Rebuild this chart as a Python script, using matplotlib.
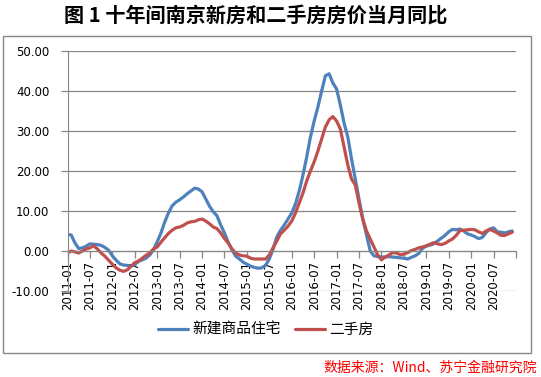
import numpy as np
import matplotlib.pyplot as plt
from matplotlib.patches import Rectangle

# 月度数据 2011-01 ~ 2020-12（同比，%）
new_home = [
    4.1, 4.0, 2.0, 0.6, 0.8, 1.2, 1.8, 1.7, 1.6, 1.4, 0.9, 0.2,          # 2011
    -1.2, -2.3, -3.2, -3.5, -3.6, -3.8, -3.4, -2.6, -2.2, -1.8, -1.0, 0.3,  # 2012
    2.3, 4.5, 7.2, 9.5, 11.3, 12.2, 12.8, 13.5, 14.3, 15.0, 15.7, 15.5,  # 2013
    14.8, 13.0, 11.2, 9.8, 8.8, 6.5, 4.5, 2.2, 0.3, -1.3, -2.0, -2.8,    # 2014
    -3.3, -3.8, -4.1, -4.3, -4.2, -3.6, -2.0, 0.5, 3.5, 5.2, 6.5, 8.0,   # 2015
    9.5, 11.8, 15.0, 19.0, 23.5, 28.5, 32.5, 36.0, 40.0, 43.8, 44.3, 42.0,  # 2016
    40.5, 36.5, 32.0, 28.5, 23.0, 18.0, 13.0, 8.0, 4.0, 0.0, -1.2, -1.4,  # 2017
    -1.5, -1.5, -1.4, -1.5, -1.6, -1.7, -1.8, -2.0, -1.6, -1.2, -0.6, 0.7,  # 2018
    1.2, 1.5, 1.8, 2.5, 3.2, 3.9, 4.8, 5.4, 5.3, 5.5, 5.0, 4.3,          # 2019
    4.0, 3.6, 3.1, 3.4, 4.6, 5.5, 5.8, 4.8, 4.7, 4.5, 4.8, 5.0,          # 2020
]
second_hand = [
    -0.5, 0.0, -0.2, -0.5, 0.0, 0.5, 0.8, 1.3, 0.5, -0.5, -1.3, -2.3,     # 2011
    -3.3, -4.2, -4.8, -5.1, -4.7, -3.8, -2.9, -2.5, -1.8, -1.1, -0.5, 0.5,  # 2012
    1.0, 2.2, 3.3, 4.4, 5.2, 5.8, 6.0, 6.4, 7.0, 7.3, 7.4, 7.8,          # 2013
    8.0, 7.5, 6.8, 6.0, 5.6, 4.5, 3.1, 2.0, 0.5, -0.5, -1.0, -1.2,       # 2014
    -1.3, -1.8, -2.0, -2.0, -2.0, -2.0, -1.0, 0.8, 2.5, 4.3, 5.2, 6.2,   # 2015
    7.5, 9.5, 12.0, 14.5, 17.5, 20.0, 22.3, 25.0, 28.0, 31.0, 32.8, 33.6,  # 2016
    32.5, 30.5, 26.0, 21.5, 18.0, 16.5, 12.0, 8.0, 5.0, 3.0, 1.0, -1.0,  # 2017
    -2.2, -1.5, -1.0, -0.4, -0.5, -0.9, -0.8, -0.4, 0.1, 0.4, 0.8, 1.0,  # 2018
    1.3, 1.7, 2.1, 1.8, 1.6, 1.9, 2.5, 3.0, 3.9, 5.1, 5.2, 5.3,          # 2019
    5.4, 5.3, 4.8, 4.4, 5.0, 5.4, 5.0, 4.5, 3.9, 3.9, 4.3, 4.7,          # 2020
]
tick_labels = [f"{y}-{m:02d}" for y in range(2011, 2021) for m in (1, 7)]
series_names = ["新建商品住宅", "二手房"]

cjk = ["Noto Sans CJK SC", "DejaVu Sans"]
grid_color = "#868686"

fig = plt.figure(figsize=(5.41, 3.77), dpi=100)
W, H = 541, 377
ax = fig.add_axes([67.5 / W, 1 - 291 / H, (516 - 67.5) / W, 240 / H])

# 横轴放在 0 处（先设置，否则会重置刻度标签）
for s in ("top", "right"):
    ax.spines[s].set_visible(False)
ax.spines["left"].set_color(grid_color)
ax.spines["bottom"].set_color(grid_color)
ax.spines["bottom"].set_position(("data", 0))

x = np.arange(len(new_home))
ax.plot(x, new_home, color="#4F81BD", lw=2.3, label=series_names[0], solid_capstyle="round")
ax.plot(x, second_hand, color="#C0504D", lw=2.3, label=series_names[1], solid_capstyle="round")

ax.set_xlim(0, 120)
ax.set_ylim(-10, 50)
ax.set_yticks(np.arange(-10, 51, 10))
ax.set_yticklabels([f"{v:.2f}" for v in np.arange(-10, 51, 10)], fontsize=8.5, family="DejaVu Sans")
ax.set_xticks(np.arange(0, 121, 6))
ax.set_xticklabels(tick_labels + [""], rotation=90, fontsize=8.5, family="DejaVu Sans")

ax.yaxis.grid(True, color=grid_color, lw=0.9)
ax.set_axisbelow(True)
ax.tick_params(axis="y", length=5, width=0.9, color=grid_color, pad=8)
ax.tick_params(axis="x", length=5, width=0.9, color=grid_color, pad=2, direction="out")

# 外框
fig.patches.append(Rectangle((3 / W, 1 - 353 / H), 528 / W, 317 / H, transform=fig.transFigure,
                             fill=False, edgecolor=grid_color, lw=1))

fig.text(256 / W, 1 - 15 / H, "图 1 十年间南京新房和二手房房价当月同比", ha="center", va="center",
         fontsize=14.5, fontweight="bold", family=cjk)

fig.legend(loc="center", bbox_to_anchor=(266 / W, 1 - 330 / H), ncol=2, frameon=False,
           prop={"family": cjk, "size": 10.6}, handlelength=2.0, handletextpad=0.3,
           columnspacing=1.0)

fig.text(537 / W, 1 - 368 / H, "数据来源：Wind、苏宁金融研究院", ha="right", va="center",
         fontsize=10, color="#FF0000", style="italic", family=cjk)

fig.savefig("out.png", dpi=100)
